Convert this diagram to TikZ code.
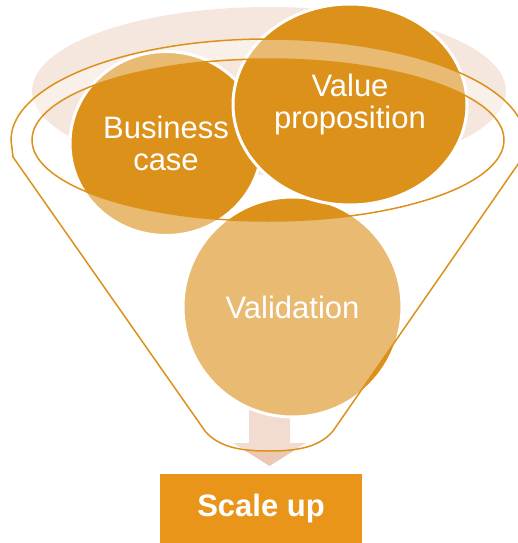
\documentclass[tikz,border=0pt]{standalone}
\usepackage{fontspec}
\setsansfont{Liberation Sans}
\usepackage{tikz}
\usetikzlibrary{shapes.geometric}

\definecolor{funnelorange}{RGB}{220,145,26}
\definecolor{boxorange}{RGB}{232,149,26}
\definecolor{paleblush}{RGB}{246,231,222}
\definecolor{arrowpeach}{RGB}{235,200,178}

\begin{document}
\begin{tikzpicture}[
  x=1pt, y=-1pt,
  bubble/.style={ellipse, draw=white, line width=3pt, fill=funnelorange, inner sep=0pt, text=white, align=center, font=\sffamily\fontsize{31}{32}\selectfont},
  rim/.style={draw=funnelorange, line width=1.5pt},
  box/.style={rectangle, fill=boxorange, text=white, minimum width=202pt, minimum height=69pt, font=\sffamily\bfseries\fontsize{31}{36}\selectfont}
]
\useasboundingbox (0,0) rectangle (517,543);

% backdrop behind the rim
\fill[paleblush] (269,91) ellipse [x radius=237, y radius=84];

% arrow out of the funnel
\fill[arrowpeach] (249,400) -- (290,400) -- (290,443) -- (306,443) -- (269.5,466) -- (233,443) -- (249,443) -- cycle;

\node[bubble, minimum width=219pt, minimum height=220pt] (valid) at (292.5,307) {Validation};
\node[bubble, minimum width=192pt, minimum height=184pt] (business) at (166,143.5) {Business\\case};
\node[bubble, minimum width=234pt, minimum height=201pt] (value) at (350,104.5) {Value\\proposition};

% funnel glass and rim
\draw[rim, fill=white, fill opacity=0.38, even odd rule]
  (13,157) -- (11,140) arc[start angle=180, end angle=360, x radius=257, y radius=101]
  -- (523,157) -- (333,431)
  .. controls (318,449) and (292,451) .. (269,451)
  .. controls (246,451) and (220,449) .. (205,431) -- cycle
  (268,140) ellipse [x radius=236, y radius=81];

\node[box] (scale) at (261,508.5) {Scale up};
\end{tikzpicture}
\end{document}
